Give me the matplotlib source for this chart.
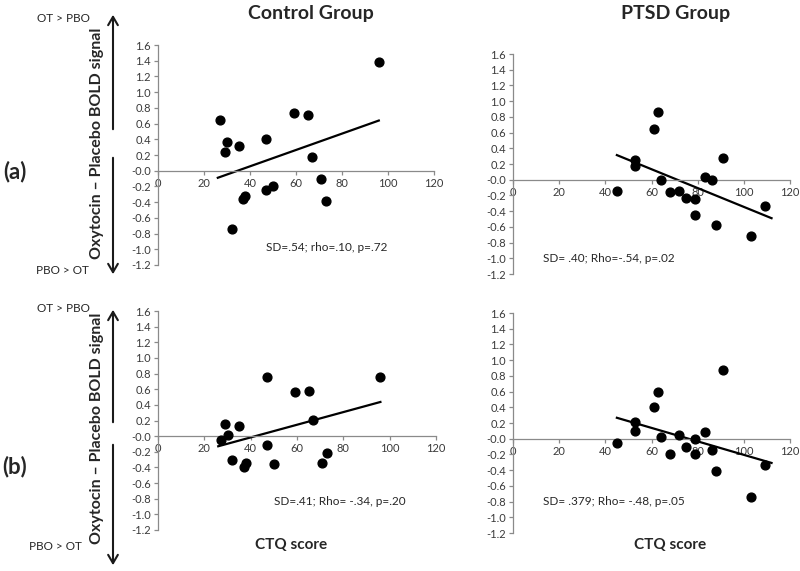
import numpy as np
import matplotlib.pyplot as plt
from matplotlib.patches import FancyArrowPatch

plt.rcParams['font.family'] = ['Lato', 'DejaVu Sans']

W, H = 800, 571

# dane
ctrl_ctq = [27, 29, 30, 32, 35, 37, 38, 47, 47, 50, 59, 65, 67, 71, 73, 96]
ctrl_a = [0.64, 0.24, 0.36, -0.74, 0.31, -0.36, -0.32, 0.40, -0.25, -0.19,
          0.74, 0.71, 0.17, -0.11, -0.39, 1.38]
ctrl_b = [-0.05, 0.16, 0.01, -0.31, 0.13, -0.39, -0.34, 0.76, -0.11, -0.35,
          0.57, 0.58, 0.20, -0.34, -0.21, 0.75]

ptsd_ctq = [45, 53, 53, 61, 63, 64, 68, 72, 75, 79, 79, 83, 86, 88, 91, 103, 109]
ptsd_a = [-0.14, 0.25, 0.17, 0.64, 0.86, 0.00, -0.16, -0.14, -0.23, -0.25,
          -0.45, 0.04, 0.00, -0.58, 0.28, -0.71, -0.33]
ptsd_b = [-0.05, 0.21, 0.10, 0.41, 0.60, 0.02, -0.19, 0.05, -0.10, 0.00,
          -0.19, 0.08, -0.14, -0.41, 0.87, -0.74, -0.34]

stats = ["SD=.54; rho=.10, p=.72", "SD= .40; Rho=-.54, p=.02",
         "SD=.41; Rho= -.34, p=.20", "SD= .379; Rho= -.48, p=.05"]

fit_ctrl = [26, 96]
fit_ptsd = [45, 112]

xticks = np.arange(0, 121, 20)
yticks = np.arange(-1.2, 1.61, 0.2)

def fx(x):
    return x / W

def fy(y):
    return 1 - y / H

# pozycje osi w pikselach: lewo, prawo, gora(1.6), dol(-1.2)
boxes = [(158, 434, 45, 265), (513, 790, 54, 274),
         (158, 436, 311, 530), (513, 790, 313, 533)]
panels = [(ctrl_ctq, ctrl_a, fit_ctrl, (47, -0.98)),
          (ptsd_ctq, ptsd_a, fit_ptsd, (13, -1.0)),
          (ctrl_ctq, ctrl_b, fit_ctrl, (50, -0.84)),
          (ptsd_ctq, ptsd_b, fit_ptsd, (13, -0.80))]

fig = plt.figure(figsize=(W / 100, H / 100), dpi=100)
grey = '#8a8a8a'
txt = '#262626'
for k, (box, pan) in enumerate(zip(boxes, panels)):
    l, r, t, b = box
    ax = fig.add_axes([fx(l), fy(b), (r - l) / W, (b - t) / H])
    x, y, fr, tp = pan
    ax.scatter(x, y, s=40, c='black', zorder=3)
    wsp = np.polyfit(x, y, 1)
    xl = np.array(fr, float)
    ax.plot(xl, np.polyval(wsp, xl), color='black', lw=1.6, zorder=2)
    ax.set_xlim(0, 120)
    ax.set_ylim(-1.2, 1.6)
    ax.set_xticks(xticks)
    ax.set_yticks(yticks)
    ax.set_yticklabels(['%.1f' % v for v in yticks])
    ax.spines['top'].set_visible(False)
    ax.spines['right'].set_visible(False)
    ax.spines['bottom'].set_position(('data', 0))
    for s in ('left', 'bottom'):
        ax.spines[s].set_color(grey)
        ax.spines[s].set_linewidth(0.9)
    ax.tick_params(colors=grey, labelcolor='#3a3a3a', labelsize=8,
                   length=3, width=0.9, pad=2)
    ax.patch.set_alpha(0)
    ax.text(tp[0], tp[1], stats[k], fontsize=8.5, color=txt,
            ha='left', va='center')

fig.text(fx(311), fy(14), 'Control Group', fontsize=14, fontweight='bold',
         color=txt, ha='center', va='center')
fig.text(fx(676), fy(14), 'PTSD Group', fontsize=14, fontweight='bold',
         color=txt, ha='center', va='center')
fig.text(fx(291), fy(545), 'CTQ score', fontsize=11, fontweight='bold',
         color=txt, ha='center', va='center')
fig.text(fx(670), fy(545), 'CTQ score', fontsize=11, fontweight='bold',
         color=txt, ha='center', va='center')

# lewa strona: etykiety i strzalki
rows = [dict(lab='(a)', ly=172, cy=143, up=18, dn=271, dnx=62,
             a=(12, 132, 155, 277)),
        dict(lab='(b)', ly=467, cy=428, up=308, dn=547, dnx=55,
             a=(307, 425, 442, 568))]
for rw in rows:
    fig.text(fx(15), fy(rw['ly']), rw['lab'], fontsize=16, fontweight='bold',
             color=txt, ha='center', va='center')
    fig.text(fx(97), fy(rw['cy']), 'Oxytocin \u2013 Placebo BOLD signal',
             fontsize=11.5, fontweight='bold', rotation=90, color=txt,
             ha='center', va='center')
    fig.text(fx(63), fy(rw['up']), 'OT > PBO', fontsize=8.5, color=txt,
             ha='center', va='center')
    fig.text(fx(rw['dnx']), fy(rw['dn']), 'PBO > OT', fontsize=8.5,
             color=txt, ha='center', va='center')
    t0, g0, g1, t1 = rw['a']
    for p0, p1 in ((g0, t0), (g1, t1)):
        arr = FancyArrowPatch((fx(113), fy(p0)), (fx(113), fy(p1)),
                              transform=fig.transFigure,
                              arrowstyle='->,head_length=0.6,head_width=0.35',
                              mutation_scale=10, lw=1.5, color='#1a1a1a')
        fig.add_artist(arr)

fig.savefig('out.png', dpi=100)
